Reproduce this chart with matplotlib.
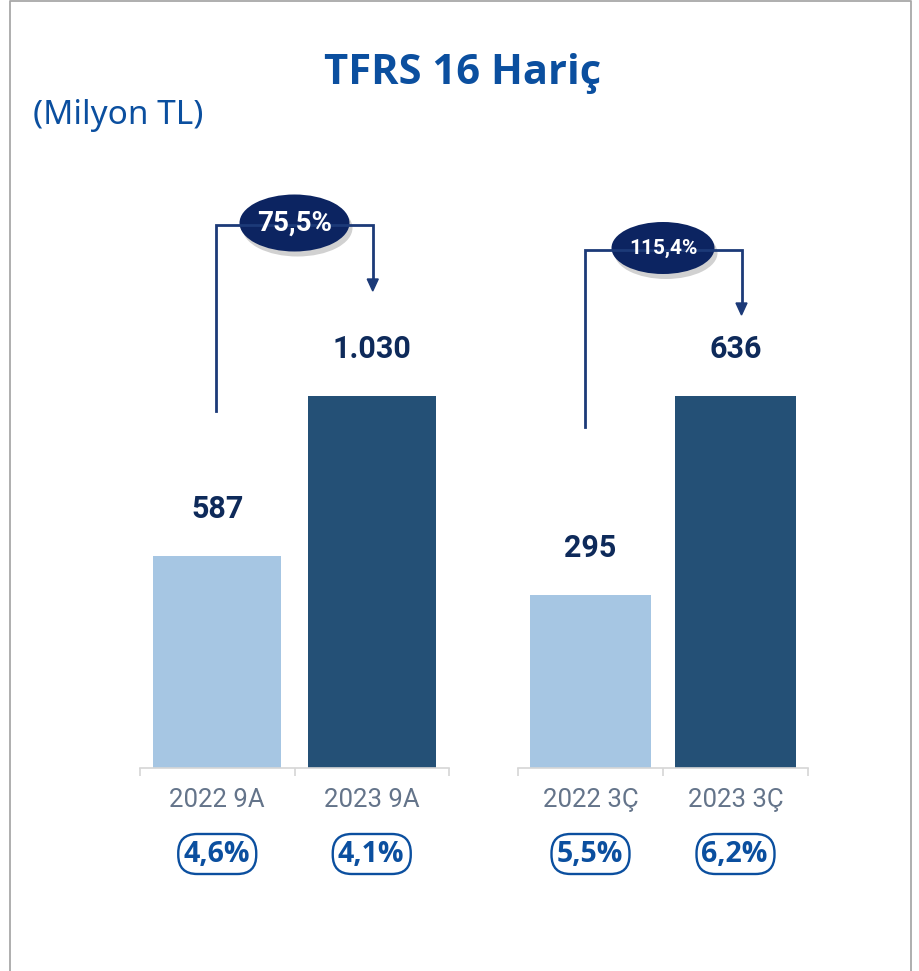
import matplotlib.pyplot as plt
import numpy as np
from matplotlib.patches import Ellipse, FancyBboxPatch, Polygon

W, H = 919, 971

# data
title = "TFRS 16 Hariç"
unit = "(Milyon TL)"
groups = [["2022 9A", "2023 9A"], ["2022 3Ç", "2023 3Ç"]]
values = [[587, 1030], [295, 636]]
value_labels = [["587", "1.030"], ["295", "636"]]
growth = ["75,5%", "115,4%"]
margins = [["4,6%", "4,1%"], ["5,5%", "6,2%"]]

# style
light = "#a6c6e3"
dark = "#245076"
navy = "#0c2461"
line_c = "#1c3a78"
blue = "#0b4f9f"
lbl_c = "#0e2a5a"
cat_c = "#64748a"

# layout (pixels)
ax_boxes = [(140, 449), (518, 808)]
base_px, top_px = 768, 150
bar_px = 372
conn_up = [171, 146]      # connector above taller bar
tip_up = [105, 81]        # arrow tip above taller bar
start_up = [145, 168]     # start of left leg above shorter bar
arrow_dx = [1, 6]
ell_size = [(110, 57), (103, 52)]
ell_font = [20, 15]

fig = plt.figure(figsize=(W / 100, H / 100), dpi=100)

axes = []
for k, (x0, x1) in enumerate(ax_boxes):
    ax = fig.add_axes([x0 / W, (H - base_px) / H, (x1 - x0) / W, (base_px - top_px) / H])
    vals = values[k]
    ax.bar([0, 1], vals, width=0.83, color=[light, dark])
    ax.set_xlim(-0.5, 1.5)
    ax.set_ylim(0, max(vals) * (base_px - top_px) / bar_px)
    for s in ["top", "left", "right"]:
        ax.spines[s].set_visible(False)
    ax.spines["bottom"].set_color("#d6d6d6")
    ax.spines["bottom"].set_linewidth(1.2)
    ax.set_yticks([])
    ax.set_xticks([])
    ax.set_xticks([-0.5, 0.5, 1.5], minor=True)
    ax.tick_params(axis="x", which="minor", length=6, width=1.2, color="#d6d6d6")
    ax.patch.set_alpha(0)
    axes.append(ax)

ov = fig.add_axes([0, 0, 1, 1])
ov.set_xlim(0, W)
ov.set_ylim(H, 0)
ov.axis("off")
ov.patch.set_alpha(0)


def to_px(ax, x, y):
    d = ax.transData.transform((x, y))
    return d[0], H - d[1]


for k, ax in enumerate(axes):
    vals = values[k]
    for i, v in enumerate(vals):
        cx, ty = to_px(ax, i, v)
        ov.text(cx, ty - 47, value_labels[k][i], ha="center", va="center",
                fontsize=22, fontweight="bold", color=lbl_c, family=["Roboto", "DejaVu Sans"])
        ov.text(cx, base_px + 32, groups[k][i], ha="center", va="center",
                fontsize=18.5, color=cat_c, family=["Roboto", "DejaVu Sans"])
        py = base_px + 86
        ov.add_patch(FancyBboxPatch((cx - 39, py - 20), 78, 40,
                                    boxstyle="round,pad=0,rounding_size=19",
                                    fc="white", ec=blue, lw=1.7))
        ov.text(cx - 1, py, margins[k][i], ha="center", va="center",
                fontsize=20.5, fontweight="bold", color=blue, family=["Open Sans", "DejaVu Sans"])

    # growth connector
    x1, y_low = to_px(ax, 0, vals[0])
    x2, y_high = to_px(ax, 1, vals[1])
    x1 -= arrow_dx[k]
    x2 += arrow_dx[k]
    conn = y_high - conn_up[k]
    tip = y_high - tip_up[k]
    start = y_low - start_up[k]
    ov.plot([x1, x1, x2, x2], [start, conn, conn, tip - 11], color=line_c, lw=2,
            solid_joinstyle="miter")
    ov.add_patch(Polygon([[x2 - 5.5, tip - 12], [x2 + 5.5, tip - 12], [x2, tip]],
                         closed=True, color=line_c))
    mx = (x1 + x2) / 2
    ew, eh = ell_size[k]
    ov.add_patch(Ellipse((mx + 3, conn + 3), ew, eh, color="#000000", alpha=0.18, lw=0))
    ov.add_patch(Ellipse((mx, conn - 2), ew, eh, color=navy, lw=0))
    ov.text(mx, conn - 2, growth[k], ha="center", va="center", fontsize=ell_font[k],
            fontweight="bold", color="white", family=["Roboto", "DejaVu Sans"])

# titles
ov.text(463, 73, title, ha="center", va="center", fontsize=30, fontweight="bold",
        color=blue, family=["Open Sans", "DejaVu Sans"])
ov.text(33, 115, unit, ha="left", va="center", fontsize=24, fontweight="light",
        color=blue, family=["Noto Sans", "DejaVu Sans"])

# frame
ov.plot([9.5, 9.5, 910.5, 910.5], [H, 1.5, 1.5, H], color="#a8a8a8", lw=1.3)

fig.savefig("out.png", dpi=100)
